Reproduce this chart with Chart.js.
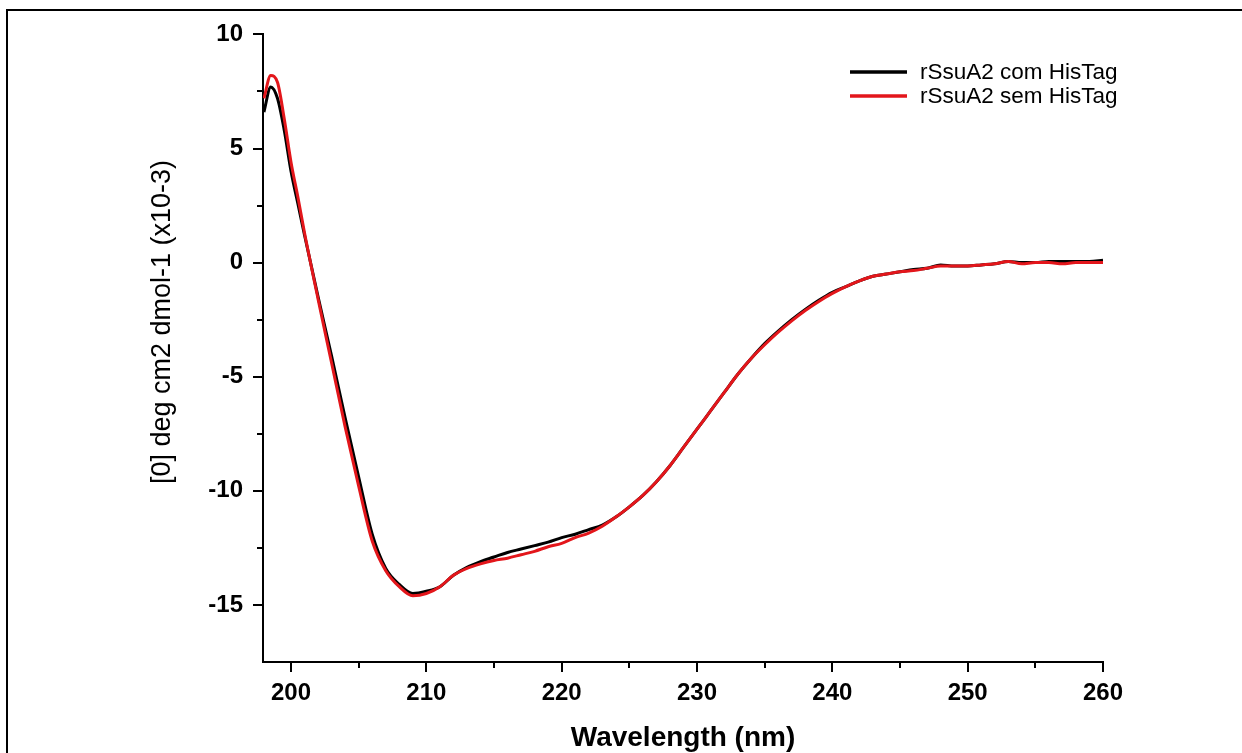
<!DOCTYPE html>
<html><head><meta charset="utf-8">
<script src="https://cdn.jsdelivr.net/npm/chart.js@4.4.1/dist/chart.umd.min.js"></script>
<style>
html,body{margin:0;padding:0;background:#fff;}
#wrap{position:relative;width:1242px;height:753px;overflow:hidden;background:#fff;}
#frame{position:absolute;left:6px;top:9px;width:1260px;height:780px;border-top:2px solid #000;border-left:2px solid #000;pointer-events:none;}
canvas{position:absolute;left:0;top:0;}
</style></head><body>
<div id="wrap"><canvas id="c" width="1242" height="753"></canvas><div id="frame"></div></div>
<script>
const wavelengths = [198,198.5,199,199.5,200,200.5,201,202,203,204,205,206,207,208,209,210,211,212,213,214,215,216,217,218,219,220,221,222,223,224,225,226,227,228,229,230,231,232,233,234,235,236,237,238,239,240,241,242,243,244,245,246,247,248,249,250,251,252,253,254,255,256,257,258,259,260];
const comHisTag = [6.6,7.7,7.2,5.8,4.0,2.6,1.2,-1.5,-4.1,-6.8,-9.4,-11.9,-13.4,-14.1,-14.5,-14.4,-14.2,-13.7,-13.35,-13.1,-12.9,-12.7,-12.55,-12.4,-12.25,-12.05,-11.9,-11.7,-11.5,-11.15,-10.7,-10.2,-9.6,-8.9,-8.1,-7.3,-6.5,-5.7,-4.9,-4.2,-3.55,-3.0,-2.5,-2.05,-1.65,-1.3,-1.05,-0.8,-0.6,-0.5,-0.4,-0.3,-0.25,-0.1,-0.15,-0.15,-0.1,-0.05,0.05,0.0,0.0,0.05,0.05,0.05,0.05,0.1];
const semHisTag = [7.2,8.2,7.9,6.3,4.4,2.9,1.3,-1.6,-4.4,-7.2,-9.8,-12.2,-13.5,-14.2,-14.6,-14.5,-14.2,-13.7,-13.4,-13.2,-13.05,-12.95,-12.8,-12.65,-12.45,-12.3,-12.05,-11.85,-11.55,-11.15,-10.7,-10.2,-9.6,-8.9,-8.1,-7.3,-6.5,-5.7,-4.9,-4.2,-3.6,-3.05,-2.55,-2.1,-1.7,-1.35,-1.05,-0.8,-0.6,-0.5,-0.4,-0.35,-0.25,-0.15,-0.15,-0.15,-0.1,-0.05,0.05,-0.05,0.0,0.0,-0.05,0.0,0.0,0.0];
const seriesLabels = ['rSsuA2 com HisTag','rSsuA2 sem HisTag'];
const xTitle = 'Wavelength (nm)';
const yTitle = '[0] deg cm2 dmol-1 (x10-3)';

const FONT = "'Liberation Sans', Arial, Helvetica, sans-serif";
const BLACK = '#000000', RED = '#e3161b';

const decor = {
  id: 'decor',
  afterDraw(chart) {
    const ctx = chart.ctx, xs = chart.scales.x, ys = chart.scales.y;
    ctx.save();
    ctx.strokeStyle = '#000'; ctx.lineWidth = 2; ctx.lineCap = 'butt';
    xs.ticks.forEach(t => {
      const px = Math.round(xs.getPixelForValue(t.value));
      const len = Math.abs(t.value % 10) < 1e-6 ? 10 : 6;
      ctx.beginPath(); ctx.moveTo(px, xs.top); ctx.lineTo(px, xs.top + len); ctx.stroke();
    });
    ys.ticks.forEach(t => {
      if (t.value <= ys.min + 1e-6) return;
      const py = Math.round(ys.getPixelForValue(t.value));
      const len = Math.abs(t.value % 5) < 1e-6 ? 10 : 6;
      ctx.beginPath(); ctx.moveTo(ys.right, py); ctx.lineTo(ys.right - len, py); ctx.stroke();
    });
    // axis titles
    ctx.fillStyle = '#000';
    ctx.font = 'bold 28px ' + FONT;
    ctx.textAlign = 'center'; ctx.textBaseline = 'middle';
    ctx.fillText(xTitle, (xs.left + xs.right) / 2, 738);
    ctx.save();
    ctx.translate(163, 322); ctx.rotate(-Math.PI / 2);
    ctx.font = '27px ' + FONT;
    ctx.fillText(yTitle, 0, 0);
    ctx.restore();
    // legend
    ctx.font = '22.5px ' + FONT;
    ctx.textAlign = 'left';
    chart.data.datasets.forEach((ds, i) => {
      const y = 72 + i * 24;
      ctx.strokeStyle = ds.borderColor; ctx.lineWidth = 3.5;
      ctx.beginPath(); ctx.moveTo(850, y); ctx.lineTo(907, y); ctx.stroke();
      ctx.fillStyle = '#000';
      ctx.fillText(ds.label, 920, y + 1);
    });
    ctx.restore();
  }
};

const tickFont = { family: FONT, size: 24, weight: 'bold' };

new Chart(document.getElementById('c'), {
  type: 'line',
  data: {
    datasets: [
      { label: seriesLabels[0], data: wavelengths.map((x, i) => ({ x, y: comHisTag[i] })), borderColor: BLACK, borderWidth: 3, pointRadius: 0, cubicInterpolationMode: 'monotone', order: 1 },
      { label: seriesLabels[1], data: wavelengths.map((x, i) => ({ x, y: semHisTag[i] })), borderColor: RED, borderWidth: 3, pointRadius: 0, cubicInterpolationMode: 'monotone', order: 0 }
    ]
  },
  options: {
    responsive: false, animation: false, devicePixelRatio: 1,
    layout: { padding: { left: 0, top: 33, right: 139, bottom: 0 } },
    plugins: { legend: { display: false }, tooltip: { enabled: false } },
    scales: {
      x: {
        type: 'linear', min: 197.93, max: 260,
        grid: { display: false, drawTicks: false },
        border: { display: true, color: '#000', width: 2 },
        ticks: { stepSize: 5, includeBounds: false, autoSkip: false, maxRotation: 0, padding: 17, color: '#000', font: tickFont,
          callback: v => Math.abs(v % 10) < 1e-6 ? String(v) : '' },
        afterFit: s => { s.height = 91; }
      },
      y: {
        type: 'linear', min: -17.5, max: 10,
        grid: { display: false, drawTicks: false },
        border: { display: true, color: '#000', width: 2 },
        ticks: { stepSize: 2.5, includeBounds: false, autoSkip: false, padding: 20, color: '#000', font: tickFont,
          callback: v => Math.abs(v % 5) < 1e-6 ? String(v) : '' },
        afterFit: s => { s.width = 263; }
      }
    }
  },
  plugins: [decor]
});
</script>
</body></html>
